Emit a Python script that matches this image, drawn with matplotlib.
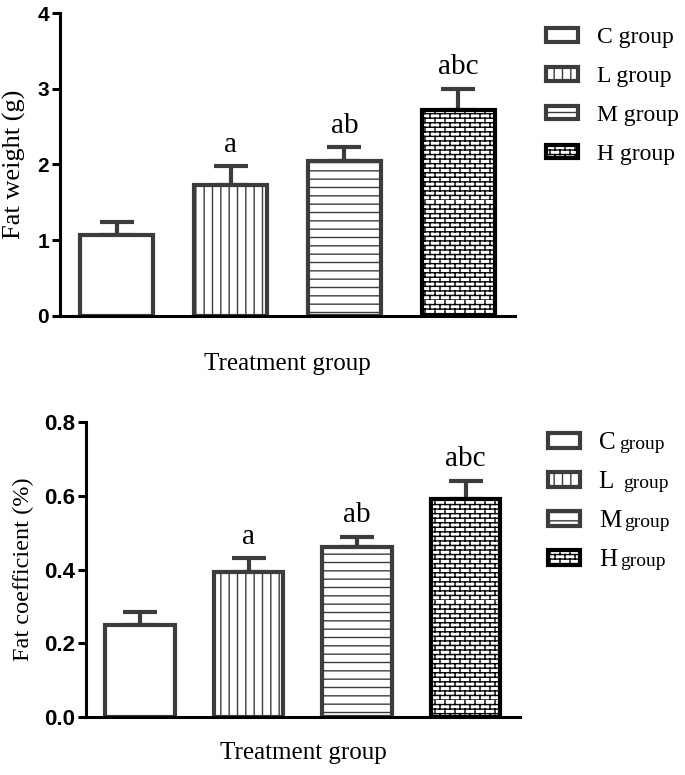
import numpy as np
import matplotlib
matplotlib.use("Agg")
import matplotlib.pyplot as plt
from matplotlib import hatch as mhatch
from matplotlib.path import Path

# --- data ---
groups = ["C", "L", "M", "H"]
weight_mean = [1.07, 1.73, 2.04, 2.72]
weight_err = [0.17, 0.25, 0.19, 0.28]
coef_mean = [0.249, 0.394, 0.460, 0.590]
coef_err = [0.035, 0.036, 0.029, 0.051]
sig_labels = ["", "a", "ab", "abc"]
top_legend = ["C group", "L group", "M group", "H group"]
bottom_legend = ["C", "L ", "M", "H"]


# brick hatch for the H group ('b' in the hatch string)
class BrickHatch(mhatch.HatchPatternBase):
    def __init__(self, hatch, density):
        self.rows = hatch.count("b") * 22
        self.cols = hatch.count("b") * 10
        self.num_vertices = (self.rows * 2 + self.rows * self.cols * 2) if self.rows else 0

    def set_vertices_and_codes(self, vertices, codes):
        i = 0
        for r in range(self.rows):
            y0 = r / self.rows
            vertices[i] = (0.0, y0); codes[i] = Path.MOVETO; i += 1
            vertices[i] = (1.0, y0); codes[i] = Path.LINETO; i += 1
            off = 0.5 / self.cols if r % 2 else 0.0
            for c in range(self.cols):
                xx = c / self.cols + off
                vertices[i] = (xx, y0); codes[i] = Path.MOVETO; i += 1
                vertices[i] = (xx, y0 + 1.0 / self.rows); codes[i] = Path.LINETO; i += 1


mhatch._hatch_types.append(BrickHatch)

plt.rcParams["hatch.linewidth"] = 1.0
serif = "Liberation Serif"
sans = "Liberation Sans"

hatches = ["", "||", "--", "b"]
edges = ["#3c3c3c", "#3c3c3c", "#3c3c3c", "#000000"]
x = np.arange(len(groups))

fig = plt.figure(figsize=(6.85, 7.75), dpi=100)
ax1 = fig.add_axes([0.0876, 0.5923, 0.752 - 0.0876, 0.9832 - 0.5923])
ax2 = fig.add_axes([0.1255, 0.0748, 0.759 - 0.1255, 0.4555 - 0.0748])


def draw_panel(ax, means, errs, ylim, yticks, fmt, ylabel, label_size, label_x, tick_size):
    bars = []
    for i in range(len(groups)):
        b = ax.bar(x[i], means[i], width=0.64, facecolor="white", edgecolor=edges[i],
                   linewidth=3, hatch=hatches[i], zorder=2)
        bars.append(b)
    ax.errorbar(x, means, yerr=[np.zeros(len(errs)), errs], fmt="none",
                ecolor="#3c3c3c", elinewidth=3, capsize=12, capthick=3, zorder=1)
    for i, s in enumerate(sig_labels):
        if s:
            ax.annotate(s, (x[i], means[i] + errs[i]), xytext=(0, 6),
                        textcoords="offset points", ha="center", va="bottom",
                        family=serif, fontsize=21)
    ax.set_xlim(-0.5, 3.5)
    ax.set_ylim(*ylim)
    ax.set_yticks(yticks)
    ax.set_yticklabels([fmt.format(t) for t in yticks], family=sans,
                       fontweight="bold", fontsize=tick_size)
    ax.set_xticks([])
    for s in ["top", "right"]:
        ax.spines[s].set_visible(False)
    for s in ["left", "bottom"]:
        ax.spines[s].set_linewidth(2.2)
    ax.tick_params(axis="y", length=6, width=2.2, pad=2)
    ax.set_ylabel(ylabel, family=serif, fontsize=label_size)
    ax.yaxis.set_label_coords(label_x, 0.5)
    return bars


bars1 = draw_panel(ax1, weight_mean, weight_err, (0, 4), [0, 1, 2, 3, 4], "{:.0f}",
                   "Fat weight (g)", 19, -0.074, 15)
ax1.set_xlabel("Treatment group", family=serif, fontsize=18, labelpad=27)
leg1 = ax1.legend([b[0] for b in bars1], top_legend, loc="upper left",
                  bbox_to_anchor=(1.068, 0.953), frameon=False, borderaxespad=0,
                  borderpad=0, prop={"family": serif, "size": 17}, handlelength=1.35,
                  handleheight=0.5, handletextpad=0.8, labelspacing=0.76)

bars2 = draw_panel(ax2, coef_mean, coef_err, (0, 0.8), [0.0, 0.2, 0.4, 0.6, 0.8],
                   "{:.1f}", "Fat coefficient (%)", 17.5, -0.12, 16)
ax2.set_xlabel("Treatment group", family=serif, fontsize=18, labelpad=18)
leg2 = ax2.legend([b[0] for b in bars2], bottom_legend, loc="upper left",
                  bbox_to_anchor=(1.0645, 0.965), frameon=False, borderaxespad=0,
                  borderpad=0, prop={"family": serif, "size": 18}, handlelength=1.3,
                  handleheight=0.5, handletextpad=0.75, labelspacing=0.68)

# the bottom legend has a smaller "group" after each letter
fig.canvas.draw()
renderer = fig.canvas.get_renderer()
inv = fig.transFigure.inverted()
for t in leg2.get_texts():
    bb = t.get_window_extent(renderer)
    x0, y0 = inv.transform((bb.x1 + 3, bb.y0 + 0.22 * bb.height))
    fig.text(x0, y0, "group", family=serif, fontsize=14, ha="left", va="baseline")

fig.savefig("out.png", dpi=100)
